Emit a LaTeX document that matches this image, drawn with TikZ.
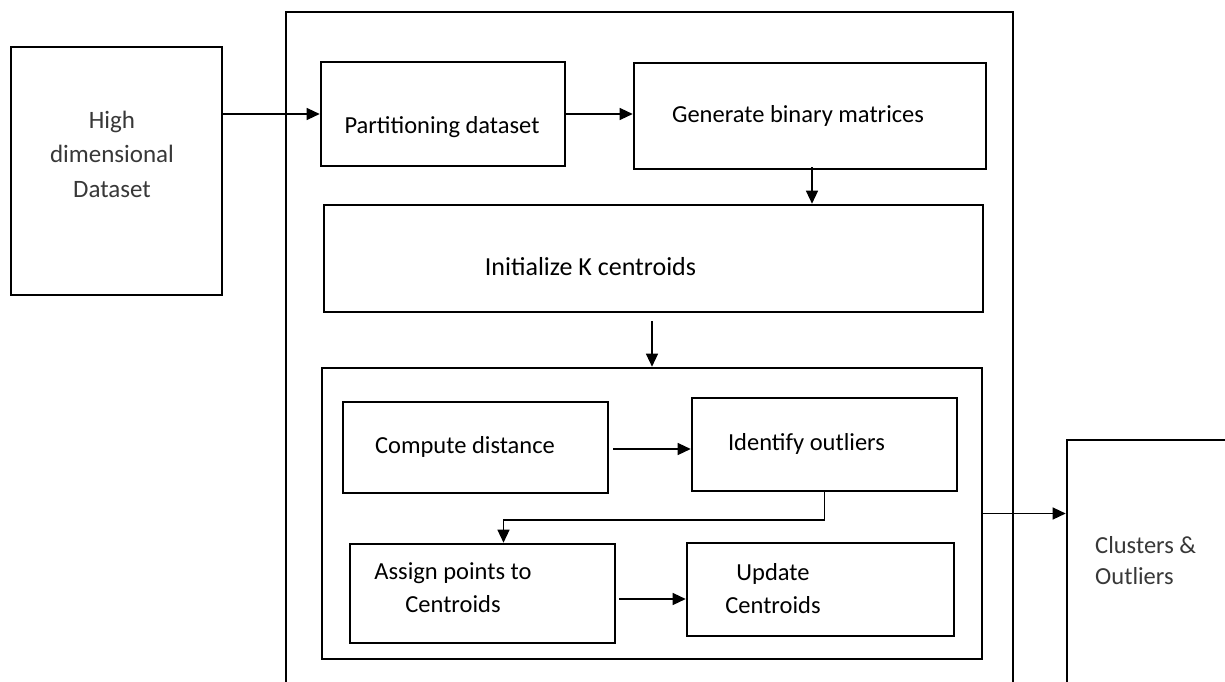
\documentclass[tikz,border=0pt]{standalone}
\usepackage{fontspec}
\setmainfont{Carlito}
\usetikzlibrary{arrows.meta}
\begin{document}
\begin{tikzpicture}[x=1pt,y=-1pt,
  box/.style={draw, line width=2.6pt, rectangle, inner sep=0pt},
  arr/.style={line width=1.3pt, -{Triangle[length=13pt,width=12pt]}},
  lbl/.style={inner sep=0pt, anchor=base, align=center, font=\fontsize{24.5}{32.5}\selectfont},
]
% canvas
\useasboundingbox (0,0) rectangle (1225,682);
\clip (0,0) rectangle (1225,682);
\fill[white] (0,0) rectangle (1225,682);

% input and output blocks
\node[box, minimum width=211pt, minimum height=248pt] (data) at (116.5,171) {};
\node[box, minimum width=193pt, minimum height=280pt] (out) at (1163.5,580) {};

% frame of the whole method
\node[box, minimum width=727pt, minimum height=700pt] (frame) at (649.5,362) {};

% preprocessing steps
\node[box, minimum width=244pt, minimum height=104pt] (part) at (443,114) {};
\node[box, minimum width=352pt, minimum height=106pt] (gen) at (810,116) {};
\node[box, minimum width=659pt, minimum height=107pt] (init) at (653.5,258.5) {};

% iteration loop
\node[box, minimum width=660pt, minimum height=291pt] (loop) at (652,513.5) {};
\node[box, minimum width=265pt, minimum height=91pt] (comp) at (475.5,447.5) {};
\node[box, minimum width=265pt, minimum height=93pt] (ident) at (824.5,444.5) {};
\node[box, minimum width=265pt, minimum height=99pt] (assign) at (482.5,593.5) {};
\node[box, minimum width=267pt, minimum height=93pt] (update) at (820.5,589.5) {};

% labels (multi-line labels sit on the baseline of their last line)
\node[lbl, text=black!78, font=\fontsize{25}{34.5}\selectfont] (tdata) at (112,197) {High\\dimensional\\Dataset};
\node[lbl] (tpart) at (442,133) {Partitioning dataset};
\node[lbl] (tgen) at (798,123) {Generate binary matrices};
\node[lbl, font=\fontsize{26}{32.5}\selectfont] (tinit) at (590.5,275) {Initialize K centroids};
\node[lbl] (tcomp) at (465,453) {Compute distance};
\node[lbl] (tident) at (806.5,450) {Identify outliers};
\node[lbl] (tassign) at (453,612) {Assign points to\\Centroids};
\node[lbl] (tupdate) at (773,613) {Update\\Centroids};
\node[lbl, align=left, anchor=base west, text=black!78, font=\fontsize{24.5}{31}\selectfont] (tout) at (1095,584) {Clusters \&\\Outliers};

% connectors
\draw[arr] (data.east |- part.west) -- (part.west);
\draw[arr] (part.east) -- (part.east -| gen.west);
\coordinate (g1) at ([xshift=2pt,yshift=3pt]gen.south);
\draw[arr] (g1) -- (g1 |- init.north);
\coordinate (i1) at ([yshift=-8pt]init.south -| loop.north);
\draw[arr] (i1) -- (loop.north);
\coordinate (c1) at ([xshift=4pt,yshift=-1.5pt]comp.east);
\draw[arr] (c1) -- (c1 -| ident.west);
\coordinate (bend) at (503.5,520);
\draw[arr] (ident.south) |- (bend) -- (bend |- assign.north);
\coordinate (a1) at ([xshift=3pt,yshift=-5.5pt]assign.east);
\draw[arr] (a1) -- (a1 -| update.west);
\draw[arr] (loop.east) -- (loop.east -| out.west);
\end{tikzpicture}
\end{document}
